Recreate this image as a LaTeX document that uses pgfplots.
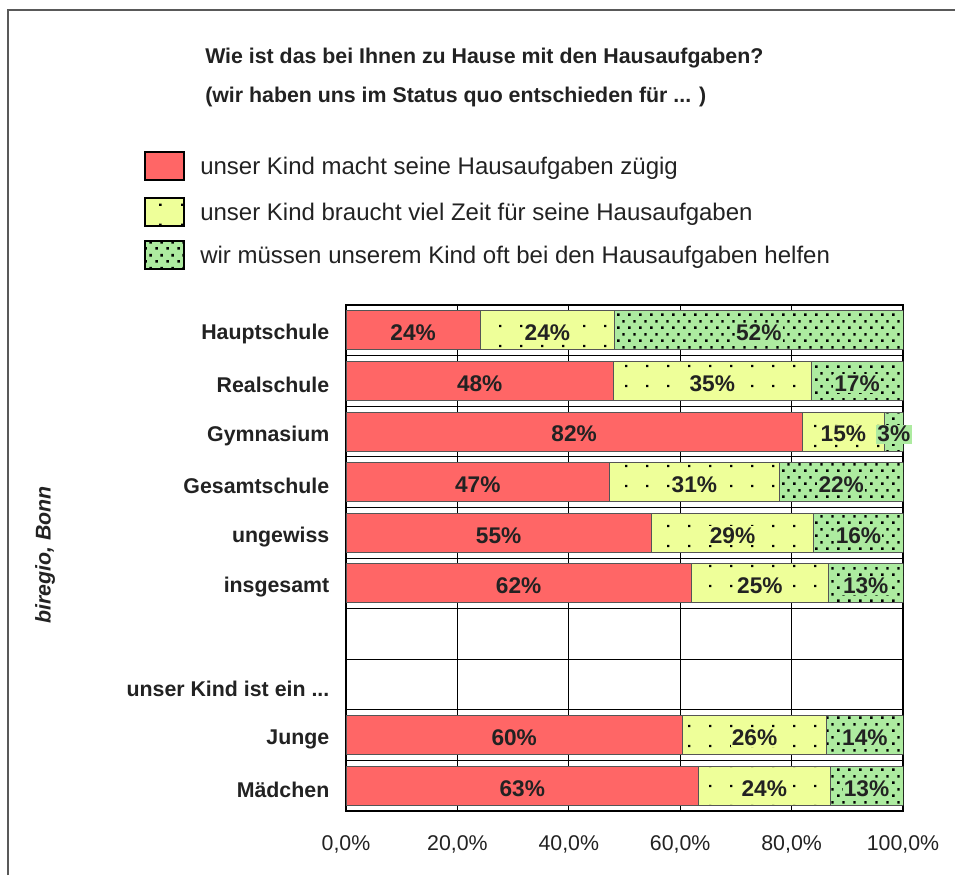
\documentclass[border=0pt]{standalone}
\usepackage{fontspec}
\setmainfont{Liberation Sans}
\setsansfont{Liberation Sans}
\usepackage{pgfplots}
\pgfplotsset{compat=1.18}
\usepackage{pgfplotstable}
\usetikzlibrary{patterns.meta}
\definecolor{cred}{HTML}{FF6666}
\definecolor{cyel}{HTML}{EEFF99}
\definecolor{cgrn}{HTML}{ADEBA0}
\definecolor{edge}{HTML}{555555}
\definecolor{txt}{HTML}{222222}

\pgfdeclarepattern{
  name=sparsedots, type=uncolored,
  bottom left={\pgfpoint{0pt}{0pt}}, top right={\pgfpoint{16pt}{15pt}},
  tile size={\pgfpoint{16pt}{15pt}},
  code={\pgfpathrectangle{\pgfpoint{7pt}{7pt}}{\pgfpoint{1.8pt}{1.8pt}}\pgfusepath{fill}}
}
\pgfdeclarepattern{
  name=densedots, type=uncolored,
  bottom left={\pgfpoint{0pt}{0pt}}, top right={\pgfpoint{8.25pt}{9.75pt}},
  tile size={\pgfpoint{8.25pt}{9.75pt}},
  code={\pgfpathrectangle{\pgfpoint{1pt}{1pt}}{\pgfpoint{2pt}{2pt}}\pgfusepath{fill}
        \pgfpathrectangle{\pgfpoint{5.125pt}{5.875pt}}{\pgfpoint{2pt}{2pt}}\pgfusepath{fill}}
}

\pgfplotstableread{
y  a    b    c    la  lb  lc
0  24.1 24.1 51.8 24  24  52
1  48.0 35.5 16.5 48  35  17
2  81.9 14.8 3.3  82  15  3
3  47.3 30.5 22.2 47  31  22
4  54.8 29.2 16.0 55  29  16
5  62.0 24.6 13.4 62  25  13
8  60.4 25.9 13.7 60  26  14
9  63.3 23.6 13.1 63  24  13
}\data

\newcommand\fsz[1]{\fontsize{#1pt}{#1pt}\selectfont}
\newcommand\kindlabel{unser Kind ist ein ...}

\begin{document}
\begin{tikzpicture}
\begin{scope}[x=0.75pt, y=-0.75pt, shift={(0pt,656.25pt)}]
  \path[use as bounding box] (0,0) rectangle (955,875);
  \draw[line width=1.5pt, color=gray!70!black] (8,875) -- (8,10) -- (955,10);
  \node[anchor=base west, font=\bfseries\fsz{16}, text=txt, inner sep=0pt] at (205,64) {Wie ist das bei Ihnen zu Hause mit den Hausaufgaben?};
  \node[anchor=base west, font=\bfseries\fsz{16}, text=txt, inner sep=0pt] at (205,103) {(wir haben uns im Status quo entschieden für ... )};
  % legend
  \draw[line width=1.5pt, fill=cred] (145,152) rectangle (184,180);
  \draw[line width=1.5pt, fill=cyel, postaction={pattern={sparsedots}, pattern color=black}] (145,198) rectangle (184,226);
  \draw[line width=1.5pt, fill=cgrn, postaction={pattern={densedots}, pattern color=black}] (145,241) rectangle (184,269);
  \node[anchor=base west, font=\fsz{18}, text=txt, inner sep=0pt] at (200,175) {unser Kind macht seine Hausaufgaben zügig};
  \node[anchor=base west, font=\fsz{18}, text=txt, inner sep=0pt] at (200,221) {unser Kind braucht viel Zeit für seine Hausaufgaben};
  \node[anchor=base west, font=\fsz{18}, text=txt, inner sep=0pt] at (200,264) {wir müssen unserem Kind oft bei den Hausaufgaben helfen};
  \node[rotate=90, font=\bfseries\itshape\fsz{16}, text=txt, inner sep=0pt] at (45,555) {biregio, Bonn};
\end{scope}

\begin{axis}[
  at={(259.5pt,48pt)}, anchor=south west,
  width=417.75pt, height=379.5pt, scale only axis,
  xbar stacked, bar width=0.77,
  y dir=reverse,
  xmin=0, xmax=100, ymin=-0.5, ymax=9.5,
  xtick={0,20,40,60,80,100},
  xticklabels={{0,0\%},{20,0\%},{40,0\%},{60,0\%},{80,0\%},{100,0\%}},
  ytick={0,1,2,3,4,5,6,7,8,9},
  yticklabels={Hauptschule,Realschule,Gymnasium,Gesamtschule,ungewiss,insgesamt,,\kindlabel,Junge,Mädchen},
  minor ytick={0.5,1.5,2.5,3.5,4.5,5.5,6.5,7.5,8.5},
  yminorgrids=true, xmajorgrids=true,
  grid style={black, line width=0.6pt},
  minor grid style={black, line width=0.6pt},
  major tick length=0pt, minor tick length=0pt,
  axis line style={black, line width=0.8pt},
  xticklabel style={font=\fsz{16}, text=txt, yshift=-15pt},
  yticklabel style={font=\bfseries\fsz{16}, text=txt, xshift=-9pt, yshift=-3pt},
  every axis plot/.append style={draw=edge, line width=0.6pt},
  point meta=explicit symbolic,
  nodes near coords={\pgfplotspointmeta\%},
  every node near coord/.append style={anchor=center, inner sep=1pt, yshift=-2pt, font=\bfseries\fsz{17}, text=txt},
]
\addplot[fill=cred, every node near coord/.append style={fill=cred}] table[x=a, y=y, meta=la] {\data};
\addplot[fill=cyel, postaction={pattern={sparsedots}, pattern color=black}, every node near coord/.append style={fill=cyel}] table[x=b, y=y, meta=lb] {\data};
\addplot[fill=cgrn, postaction={pattern={densedots}, pattern color=black}, every node near coord/.append style={fill=cgrn}] table[x=c, y=y, meta=lc] {\data};
\end{axis}
\end{tikzpicture}
\end{document}
